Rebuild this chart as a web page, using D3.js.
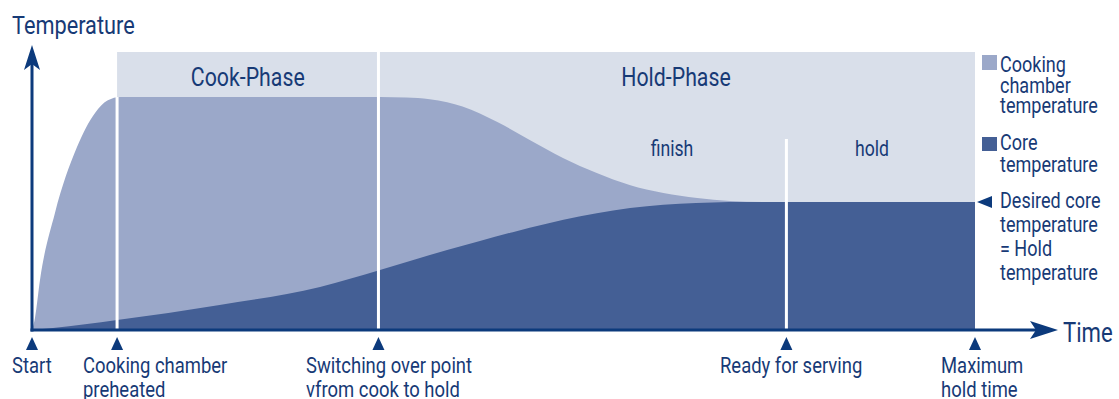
<!DOCTYPE html>
<html>
<head>
<meta charset="utf-8">
<script src="https://cdn.jsdelivr.net/npm/d3@7"></script>
<style>
  html, body { margin: 0; padding: 0; background: #fff; }
  svg text { font-family: Roboto, "Open Sans", sans-serif; fill: #173a76; }
</style>
</head>
<body>
<svg id="chart" width="1119" height="399"></svg>
<script>
'use strict';
// time axis events (abstract time units 0..100)
const eventNames = [["Start"], ["Cooking chamber", "preheated"], ["Switching over point", "vfrom cook to hold"], ["Ready for serving"], ["Maximum", "hold time"]];
const eventTimes = [0, 8.3, 33.8, 73.6, 92];

// cooking chamber temperature curve
const chamberTime = [0, 0.29, 0.78, 2.24, 4.39, 6.15, 7.4, 8.6, 33.95, 36.5, 38.8, 40.5, 42.0, 45.4, 48.6, 51.8, 55.1, 58.3, 61.6, 64.9, 68.1, 71.3, 92];
const chamberTemp = [0, 4.3, 18.0, 42.1, 65.8, 78.1, 82.6, 83.8, 83.8, 83.6, 83.0, 81.9, 80.4, 74.8, 68.3, 61.9, 56.5, 52.2, 49.3, 47.5, 46.4, 46.0, 46.0];

// core temperature curve
const coreTime = [0, 2.05, 8.3, 18.3, 28.1, 33.95, 37.2, 40.5, 43.7, 46.9, 50.2, 53.5, 56.7, 60.0, 63.2, 66.4, 69.6, 92];
const coreTemp = [0, 0.7, 3.6, 9.0, 15.5, 21.6, 25.2, 28.8, 32.0, 35.2, 38.2, 40.9, 43.0, 44.5, 45.4, 45.9, 46.0, 46.0];

const holdTemp = 46;
const phaseNames = ["Cook-Phase", "Hold-Phase"];
const subPhaseNames = ["finish", "hold"];
const legendChamber = ["Cooking", "chamber", "temperature"];
const legendCore = ["Core", "temperature"];
const legendDesired = ["Desired core", "temperature", "= Hold", "temperature"];

const colPanel = "#d9dfea", colChamber = "#9ba8c9", colCore = "#445f95", colAxis = "#0c3a7c";

const svg = d3.select("#chart");
const x = d3.scaleLinear().domain([0, 100]).range([32, 1057]);
const y = d3.scaleLinear().domain([0, 100]).range([330, 52]);
const sx = 0.82; // condensed look

function label(g, lines, px, py, size, anchor, lh) {
  lines.forEach(function (s, i) {
    g.append("text")
      .attr("transform", "translate(" + px + "," + (py + i * lh) + ") scale(" + sx + ",1)")
      .attr("font-size", size)
      .attr("text-anchor", anchor || "start")
      .text(s);
  });
}

// background panel
svg.append("rect")
  .attr("x", x(eventTimes[1])).attr("y", y(100))
  .attr("width", x(eventTimes[4]) - x(eventTimes[1]))
  .attr("height", y(0) - y(100))
  .attr("fill", colPanel);

const area = d3.area().curve(d3.curveMonotoneX)
  .x(d => x(d[0])).y0(y(0)).y1(d => y(d[1]));

svg.append("path")
  .attr("d", area(d3.zip(chamberTime, chamberTemp)))
  .attr("fill", colChamber);
svg.append("path")
  .attr("d", area(d3.zip(coreTime, coreTemp)))
  .attr("fill", colCore);

// white dividers
[[eventTimes[1], 83.8], [eventTimes[2], 100], [eventTimes[3], 68.7]].forEach(function (d) {
  svg.append("line")
    .attr("x1", x(d[0])).attr("x2", x(d[0]))
    .attr("y1", y(d[1])).attr("y2", y(0))
    .attr("stroke", "#fff").attr("stroke-width", 3);
});

// axes
svg.append("line").attr("x1", x(0)).attr("x2", x(0)).attr("y1", y(0) + 1.5).attr("y2", 60)
  .attr("stroke", colAxis).attr("stroke-width", 3);
svg.append("line").attr("x1", x(0) - 1.5).attr("x2", 1045).attr("y1", y(0)).attr("y2", y(0))
  .attr("stroke", colAxis).attr("stroke-width", 3);
svg.append("path").attr("d", "M32,45 L40,70 L32,64 L24,70 Z").attr("fill", colAxis);
svg.append("path").attr("d", "M1058,330 L1030,339 L1036,330 L1030,321 Z").attr("fill", colAxis);

// event markers
eventTimes.forEach(function (t) {
  const cx = x(t);
  svg.append("path")
    .attr("d", "M" + cx + ",337 L" + (cx + 6) + ",350 L" + (cx - 6) + ",350 Z")
    .attr("fill", colAxis);
});

const txt = svg.append("g");
label(txt, ["Temperature"], 12, 34, 26.5, "start", 0);
label(txt, ["Time"], 1063, 342, 27, "start", 0);

label(txt, [phaseNames[0]], (x(eventTimes[1]) + x(eventTimes[2])) / 2, 86, 26, "middle", 0);
label(txt, [phaseNames[1]], 676, 86, 26, "middle", 0);
label(txt, [subPhaseNames[0]], 672, 156, 21.5, "middle", 0);
label(txt, [subPhaseNames[1]], 872, 156, 21.5, "middle", 0);

const labelX = [12, 83, 306, 720, 941];
eventNames.forEach(function (lines, i) {
  label(txt, lines, labelX[i], 373, 22.5, "start", 24);
});

// legend
svg.append("rect").attr("x", 982).attr("y", 55).attr("width", 15).attr("height", 15).attr("fill", colChamber);
svg.append("rect").attr("x", 982).attr("y", 137).attr("width", 15).attr("height", 14).attr("fill", colCore);
svg.append("path")
  .attr("d", "M" + (x(eventTimes[4]) + 2) + "," + y(holdTemp) + " L992," + (y(holdTemp) - 6) + " L992," + (y(holdTemp) + 6) + " Z")
  .attr("fill", colAxis);
label(txt, legendChamber, 1000, 72, 22, "start", 20.5);
label(txt, legendCore, 1000, 150, 22, "start", 22);
label(txt, legendDesired, 1000, 208, 22, "start", 24);
</script>
</body>
</html>
